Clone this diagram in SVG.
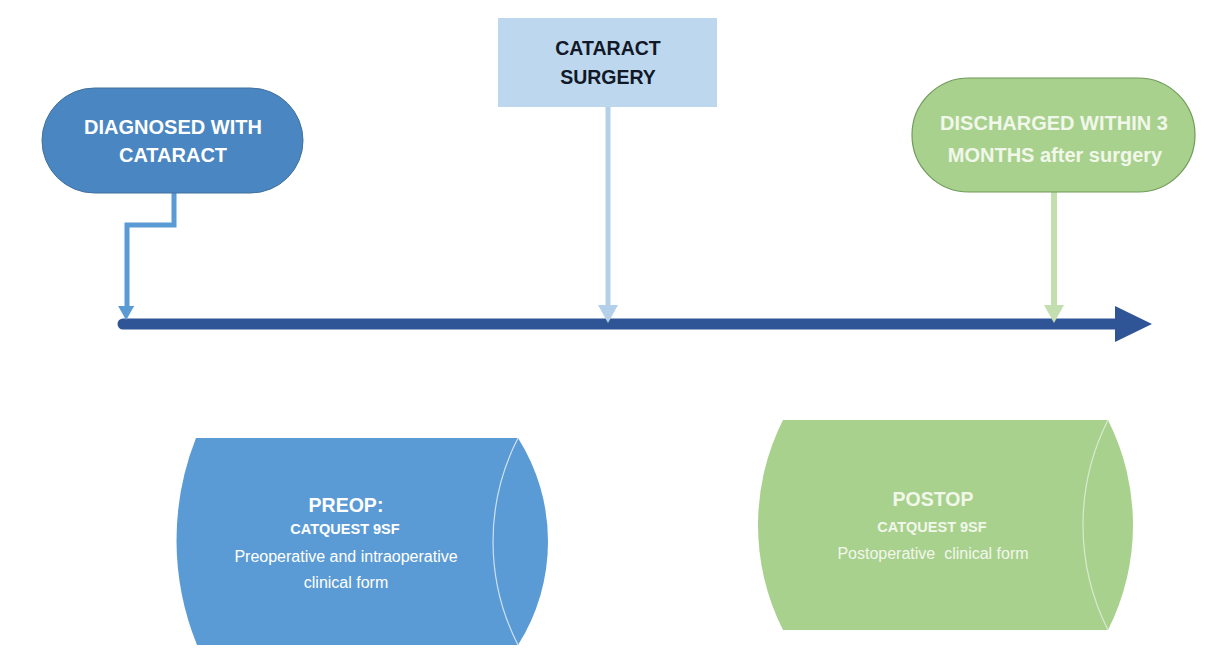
<svg xmlns="http://www.w3.org/2000/svg" width="1213" height="648" viewBox="0 0 1213 648">
<style>
.t{font-family:"Liberation Sans",Arial,sans-serif;text-anchor:middle;dominant-baseline:central;white-space:pre}
.b{font-weight:bold}
.w{fill:#ffffff}
.wg{fill:#f1f7ea}
.d{fill:#111827}
.con{fill:none;stroke-linejoin:miter}
</style>
<defs>
<marker id="mBlue" markerUnits="userSpaceOnUse" markerWidth="18" markerHeight="16" refX="0" refY="8" orient="auto" viewBox="0 0 16 18">
<path d="M0,0 L16,9 L0,18 Z" fill="#5b9bd5"/>
</marker>
<marker id="mLight" markerUnits="userSpaceOnUse" markerWidth="18" markerHeight="20" refX="0" refY="10" orient="auto" viewBox="0 0 18 20">
<path d="M0,0 L18,10 L0,20 Z" fill="#b4cfea"/>
</marker>
<marker id="mGreen" markerUnits="userSpaceOnUse" markerWidth="18" markerHeight="20" refX="0" refY="10" orient="auto" viewBox="0 0 18 20">
<path d="M0,0 L18,10 L0,20 Z" fill="#c3dfb0"/>
</marker>
</defs>
<rect width="1213" height="648" fill="#ffffff"/>

<g id="timeline">
<line x1="123" y1="324" x2="1118" y2="324" stroke="#2f5597" stroke-width="11" stroke-linecap="round"/>
<path d="M1115,306 L1152,324 L1115,342 Z" fill="#2f5597"/>
</g>

<g id="connectors">
<path class="con" d="M174,193 L174,225 L127,225 L127,306" stroke="#5b9bd5" stroke-width="5" marker-end="url(#mBlue)"/>
<path class="con" d="M608,107 L608,305" stroke="#b4cfea" stroke-width="5" marker-end="url(#mLight)"/>
<path class="con" d="M1054,192 L1054,305" stroke="#c3dfb0" stroke-width="6" marker-end="url(#mGreen)"/>
</g>

<g id="diagnosed">
<rect x="42" y="88" width="261" height="105" rx="52.5" ry="52.5" fill="#4a86c1" stroke="#41719c" stroke-width="1"/>
<text class="t b w" x="173" y="127" font-size="20">DIAGNOSED WITH</text>
<text class="t b w" x="173" y="155" font-size="20">CATARACT</text>
</g>

<g id="surgery">
<rect x="498" y="18" width="219" height="89" fill="#bdd7ee"/>
<text class="t b d" x="608" y="48" font-size="19.5">CATARACT</text>
<text class="t b d" x="608" y="77" font-size="19.5">SURGERY</text>
</g>

<g id="discharged">
<rect x="912" y="78" width="283" height="114" rx="57" ry="57" fill="#a9d18e" stroke="#6f9a58" stroke-width="1.2"/>
<text class="t b wg" x="1054" y="123" font-size="20">DISCHARGED WITHIN 3</text>
<text class="t b wg" x="1055" y="155" font-size="20">MONTHS after surgery</text>
</g>

<g id="preop">
<path d="M196,438 L518,438 A193.5,193.5 0 0 1 518,645 L197,645 A278,278 0 0 1 196,438 Z" fill="#5b9bd5"/>
<path d="M518,438 A227,227 0 0 0 518,645" fill="none" stroke="#cfe0f2" stroke-width="1.2"/>
<text class="t b w" x="346" y="505" font-size="19.5">PREOP:</text>
<text class="t b w" x="345" y="529" font-size="14.5">CATQUEST 9SF</text>
<text class="t w" x="346" y="556" font-size="16">Preoperative and intraoperative</text>
<text class="t w" x="346" y="582" font-size="16">clinical form</text>
</g>

<g id="postop">
<path d="M783,420 L1108,420 A233,233 0 0 1 1108,630 L783,630 A233,233 0 0 1 783,420 Z" fill="#a9d18e"/>
<path d="M1108,420 A233,233 0 0 0 1108,630" fill="none" stroke="#d8ead0" stroke-width="1.2"/>
<text class="t b wg" x="933" y="499" font-size="19.5">POSTOP</text>
<text class="t b wg" x="932" y="527" font-size="14.5">CATQUEST 9SF</text>
<text class="t wg" x="933" y="553" font-size="16">Postoperative  clinical form</text>
</g>
</svg>
